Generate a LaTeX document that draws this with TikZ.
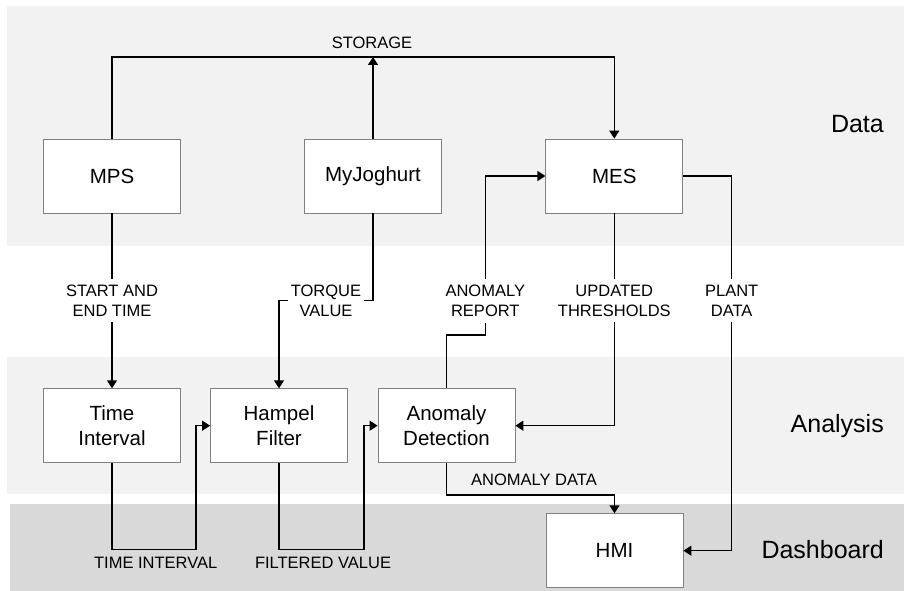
\documentclass[tikz,border=0pt]{standalone}
\usepackage{fontspec}
\setmainfont{Liberation Sans}
\usetikzlibrary{arrows.meta}
\definecolor{bandlight}{HTML}{F2F2F2}
\definecolor{banddark}{HTML}{D9D9D9}
\definecolor{boxline}{HTML}{808080}
\begin{document}
\begin{tikzpicture}[x=1pt,y=-1pt,
  box/.style={draw=boxline, line width=0.8pt, fill=white, minimum width=137pt, minimum height=74pt, inner sep=0pt, align=center, font=\fontsize{20.5}{24.3}\selectfont},
  lbl/.style={font=\fontsize{16.5}{20}\selectfont, align=center, inner sep=1pt},
  wlbl/.style={lbl, fill=white, inner ysep=6pt, inner xsep=2.5pt},
  bandlbl/.style={font=\fontsize{25}{30}\selectfont, anchor=east, inner sep=0pt},
  conn/.style={line width=1.4pt, black},
  arr/.style={conn, -{Triangle[length=8pt,width=10pt]}}]

\useasboundingbox (0,0) rectangle (904,591);
% bands
\fill[bandlight] (7,6) rectangle (904,246);
\fill[bandlight] (7,357) rectangle (904,494);
\fill[banddark] (10,504) rectangle (904,591);

\node[bandlbl] (ldata) at (884,124) {Data};
\node[bandlbl] (lanalysis) at (884,426) {Analysis};
\node[bandlbl] (ldash) at (884,550) {Dashboard};

% boxes
\node[box] (mps) at (112,176) {MPS};
\node[box] (myj) at (373,176) {MyJoghurt};
\node[box] (mes) at (614.3,176) {MES};
\node[box] (ti) at (112,425.7) {Time\\Interval};
\node[box] (hf) at (279,425.7) {Hampel\\Filter};
\node[box] (ad) at (446.5,425.7) {Anomaly\\Detection};
\node[box] (hmi) at (614.5,550.7) {HMI};

% helper coordinates
\coordinate (st) at (373,57);
\coordinate (tq) at (326,300.7);
\coordinate (jog) at (485.3,335);
\coordinate (pd) at (731.7,400);
\coordinate (ady) at (530,495);
\coordinate (u1) at (196,549.7);
\coordinate (u2) at (364,549.7);

% connectors
\draw[arr] (mps.north) |- (st) -| (mes.north);
\draw[arr] (myj.north) -- (st);
\node[lbl] (lstorage) at (372,43) {STORAGE};

\draw[arr] (mps.south) -- (ti.north);
\node[wlbl] (lstart) at (112,300.7) {START AND\\END TIME};

\draw[arr] (myj.south) -- (myj.south |- tq) -- (hf.north |- tq) -- (hf.north);
\node[wlbl] (ltorque) at (tq) {TORQUE\\VALUE};

\draw[arr] (ad.north) |- (jog) |- (mes.west);
\node[wlbl] (lreport) at (485.3,300.7) {ANOMALY\\REPORT};

\draw[arr] (mes.south) |- (ad.east);
\node[wlbl] (lthr) at (614.3,300.7) {UPDATED\\THRESHOLDS};

\draw[arr] (mes.east) -| (pd) |- (hmi.east);
\node[wlbl] (lplant) at (731.7,300.7) {PLANT\\DATA};

\draw[arr] (ad.south) |- (ady) -| (hmi.north);
\node[lbl] (ladata) at (534,480) {ANOMALY DATA};

\draw[arr] (ti.south) |- (u1) |- (hf.west);
\node[lbl] (lti) at (155.7,562.7) {TIME INTERVAL};

\draw[arr] (hf.south) |- (u2) |- (ad.west);
\node[lbl] (lfv) at (323,562.7) {FILTERED VALUE};
\end{tikzpicture}
\end{document}
